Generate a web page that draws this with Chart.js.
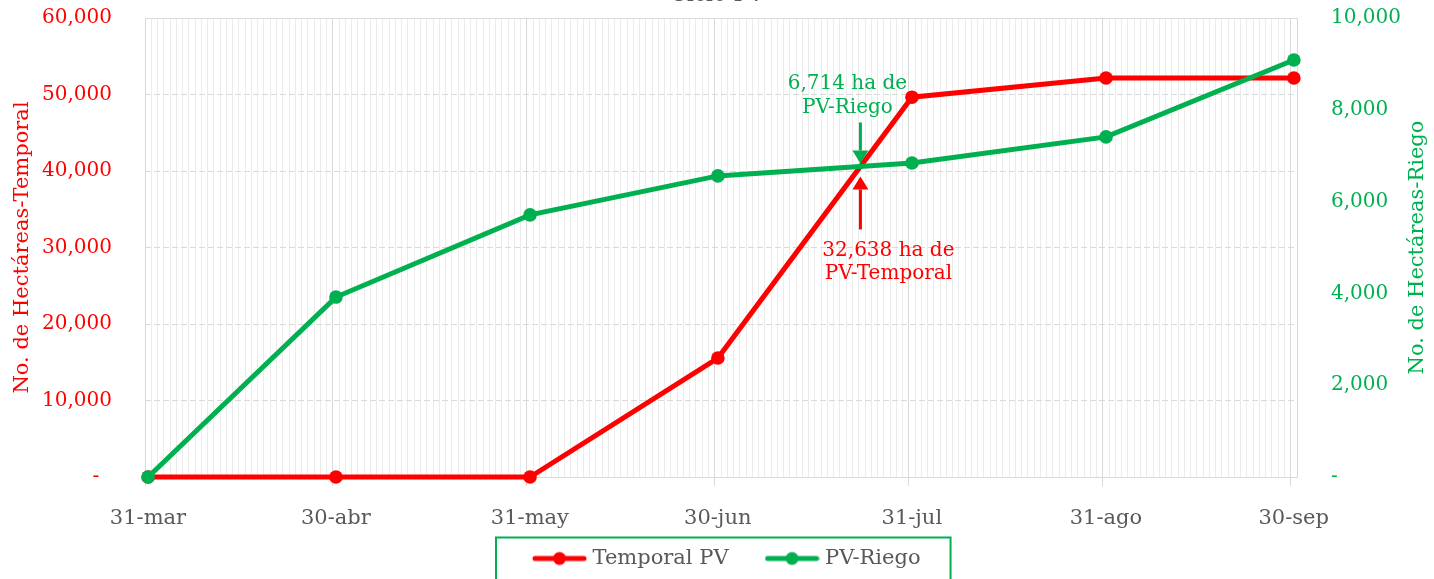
<!DOCTYPE html>
<html>
<head>
<meta charset="utf-8">
<script src="https://cdn.jsdelivr.net/npm/chart.js@4/dist/chart.umd.min.js"></script>
<style>
html,body{margin:0;padding:0;overflow:hidden;background:#fff;width:1434px;height:579px}
#wrap{position:absolute;left:0;top:-28px;width:1434px;height:638px}
</style>
</head>
<body>
<div id="wrap"><canvas id="c"></canvas></div>
<script>
// ---- data ----
const LABELS = ['31-mar', '30-abr', '31-may', '30-jun', '31-jul', '31-ago', '30-sep'];
const DATES = ['2023-03-31', '2023-04-30', '2023-05-31', '2023-06-30', '2023-07-31', '2023-08-31', '2023-09-30'];
const TEMPORAL = [0, 0, 0, 15550, 49650, 52150, 52150];
const RIEGO = [0, 3920, 5710, 6560, 6840, 7410, 9085];
const SERIES_NAMES = ['Temporal PV', 'PV-Riego'];
const LEFT_MAX = 60000, LEFT_STEP = 10000;
const RIGHT_MAX = 10000, RIGHT_STEP = 2000;
const ANNOT_RIEGO = ['6,714 ha de', 'PV-Riego'];
const ANNOT_TEMPORAL = ['32,638 ha de', 'PV-Temporal'];
const TITLE = 'Ciclo PV';
const LEFT_TITLE = 'No. de Hectáreas-Temporal';
const RIGHT_TITLE = 'No. de Hectáreas-Riego';

// ---- styles ----
const RED = '#FF0000', GREEN = '#00B050', GRAY = '#595959';
const FONT = '"DejaVu Serif", serif';
const DAYMS = 86400000;
const [by, bm, bd] = DATES[0].split('-').map(Number);
const BASE = Date.UTC(by, bm - 1, bd);
const dayOf = s => { const [y, m, d] = s.split('-').map(Number); return Math.round((Date.UTC(y, m - 1, d) - BASE) / DAYMS); };
const OFFSETS = DATES.map(dayOf);
const AXIS_END = OFFSETS[OFFSETS.length - 1] + 1;
const MAJOR = new Set(OFFSETS.concat([AXIS_END]));
const toPts = vals => vals.map((v, i) => ({ x: OFFSETS[i] + 0.5, y: v }));
const fmt = v => Number(v).toLocaleString('en-US');

function legendImg(color) {
  const c = document.createElement('canvas');
  c.width = 55; c.height = 16;
  const g = c.getContext('2d');
  g.strokeStyle = color; g.lineWidth = 5; g.lineCap = 'round';
  g.beginPath(); g.moveTo(3, 8); g.lineTo(52, 8); g.stroke();
  g.fillStyle = color; g.beginPath(); g.arc(27.5, 8, 6.5, 0, Math.PI * 2); g.fill();
  return c;
}
const IMGS = [legendImg(RED), legendImg(GREEN)];

const extras = {
  id: 'extras',
  afterLayout(chart) {
    const lg = chart.legend;
    const w = lg.right - lg.left, h = lg.bottom - lg.top;
    lg.left = 496; lg.right = 496 + w;
    lg.top = chart.chartArea.bottom + 30; lg.bottom = lg.top + h;
  },
  afterDatasetsDraw(chart) {
    const ctx = chart.ctx;
    const r = chart.getDatasetMeta(0).data, g = chart.getDatasetMeta(1).data;
    let ax = null, ay = null;
    for (let i = 0; i < r.length - 1; i++) {
      const d0 = r[i].y - g[i].y, d1 = r[i + 1].y - g[i + 1].y;
      if (d0 > 0 && d1 < 0) {
        const t = d0 / (d0 - d1);
        ax = r[i].x + t * (r[i + 1].x - r[i].x);
        ay = r[i].y + t * (r[i + 1].y - r[i].y);
        break;
      }
    }
    if (ax === null) return;
    ctx.save();
    function arrow(x, yTail, yTip, color) {
      const dir = yTip > yTail ? 1 : -1;
      const headLen = 13, half = 8;
      ctx.strokeStyle = color; ctx.fillStyle = color; ctx.lineWidth = 3;
      ctx.beginPath(); ctx.moveTo(x, yTail); ctx.lineTo(x, yTip - dir * headLen); ctx.stroke();
      ctx.beginPath();
      ctx.moveTo(x, yTip);
      ctx.lineTo(x - half, yTip - dir * headLen);
      ctx.lineTo(x + half, yTip - dir * headLen);
      ctx.closePath(); ctx.fill();
    }
    arrow(ax, ay - 44, ay - 3, GREEN);
    arrow(ax, ay + 63, ay + 10, RED);
    ctx.font = '20px ' + FONT;
    ctx.textAlign = 'center'; ctx.textBaseline = 'middle';
    ctx.fillStyle = GREEN;
    ctx.fillText(ANNOT_RIEGO[0], ax - 13, ay - 83);
    ctx.fillText(ANNOT_RIEGO[1], ax - 13, ay - 59);
    ctx.fillStyle = RED;
    ctx.fillText(ANNOT_TEMPORAL[0], ax + 28, ay + 84);
    ctx.fillText(ANNOT_TEMPORAL[1], ax + 28, ay + 107);
    ctx.restore();
  },
  afterDraw(chart) {
    const ctx = chart.ctx;
    const ca = chart.chartArea;
    ctx.save();
    // right axis title, reading bottom to top
    ctx.translate(1418, (ca.top + ca.bottom) / 2);
    ctx.rotate(-Math.PI / 2);
    ctx.font = '21px ' + FONT;
    ctx.fillStyle = GREEN; ctx.textAlign = 'center'; ctx.textBaseline = 'middle';
    ctx.fillText(RIGHT_TITLE, 0, 0);
    ctx.restore();
    const lg = chart.legend;
    const hb = lg.legendHitBoxes;
    if (!hb || !hb.length) return;
    const last = hb[hb.length - 1];
    const x0 = lg.left, x1 = last.left + last.width + 30;
    const yc = hb[0].top + hb[0].height / 2;
    ctx.save();
    ctx.strokeStyle = GREEN; ctx.lineWidth = 2;
    ctx.strokeRect(x0, yc - 21, x1 - x0, 200);
    ctx.restore();
  }
};

Chart.defaults.font.family = FONT;
new Chart(document.getElementById('c'), {
  type: 'line',
  data: {
    datasets: [
      { label: SERIES_NAMES[0], data: toPts(TEMPORAL), yAxisID: 'y', borderColor: RED, backgroundColor: RED,
        pointBackgroundColor: RED, pointBorderColor: RED, borderWidth: 5, pointRadius: 6.8, pointBorderWidth: 0, order: 1, clip: false },
      { label: SERIES_NAMES[1], data: toPts(RIEGO), yAxisID: 'y1', borderColor: GREEN, backgroundColor: GREEN,
        pointBackgroundColor: GREEN, pointBorderColor: GREEN, borderWidth: 5, pointRadius: 6.8, pointBorderWidth: 0, order: 0, clip: false }
    ]
  },
  options: {
    responsive: true, maintainAspectRatio: false, animation: false,
    layout: { padding: { left: 0, right: 0, top: 0, bottom: 6 } },
    interaction: { mode: null },
    scales: {
      x: {
        type: 'linear', min: 0, max: AXIS_END,
        afterBuildTicks: s => { s.ticks = Array.from({ length: AXIS_END + 1 }, (_, i) => ({ value: i })); },
        afterFit: s => { s.height = 55; },
        ticks: {
          autoSkip: false, maxRotation: 0, minRotation: 0, labelOffset: 3, padding: 20,
          color: GRAY, font: { size: 21 },
          callback: v => { const i = OFFSETS.indexOf(v); return i >= 0 ? LABELS[i] : ''; }
        },
        grid: {
          color: c => MAJOR.has(c.tick && c.tick.value) ? '#d9d9d9' : '#ececec',
          lineWidth: 1, tickLength: 9,
          tickColor: c => OFFSETS.includes(c.tick && c.tick.value) ? '#d9d9d9' : 'rgba(0,0,0,0)'
        },
        border: { display: true, color: '#d9d9d9', width: 1 }
      },
      y: {
        position: 'left', min: 0, max: LEFT_MAX,
        afterFit: s => { s.width = 145; },
        ticks: { stepSize: LEFT_STEP, color: RED, font: { size: 20 }, padding: 33,
          callback: v => v === 0 ? '-\u2007' : fmt(v) },
        grid: { drawTicks: false,
          color: c => (c.tick && c.tick.value === 0) ? 'rgba(0,0,0,0)' : '#d9d9d9' },
        border: { display: false, dash: c => (c.tick && c.tick.value === LEFT_MAX) ? [] : [6, 3] },
        title: { display: true, text: LEFT_TITLE, color: RED, font: { size: 21 }, padding: { top: 10, bottom: 0 } }
      },
      y1: {
        position: 'right', min: 0, max: RIGHT_MAX,
        afterFit: s => { s.width = 137; },
        ticks: { stepSize: RIGHT_STEP, color: GREEN, font: { size: 20 }, padding: 34,
          callback: v => v === 0 ? '-' : fmt(v) },
        grid: { display: false, drawTicks: false },
        border: { display: false },
        title: { display: false }
      }
    },
    plugins: {
      tooltip: { enabled: false },
      title: { display: true, text: TITLE, color: GRAY, font: { size: 22, weight: 'normal' }, padding: { top: 0, bottom: 9.6 } },
      legend: {
        position: 'bottom', align: 'start',
        labels: {
          usePointStyle: true, pointStyleWidth: 45, padding: 41, color: GRAY, font: { size: 21 },
          generateLabels: () => SERIES_NAMES.map((n, i) => ({
            text: n, pointStyle: IMGS[i], fillStyle: i ? GREEN : RED, strokeStyle: i ? GREEN : RED,
            fontColor: GRAY, lineWidth: 0, hidden: false, datasetIndex: i
          }))
        }
      }
    }
  },
  plugins: [extras]
});
</script>
</body>
</html>
